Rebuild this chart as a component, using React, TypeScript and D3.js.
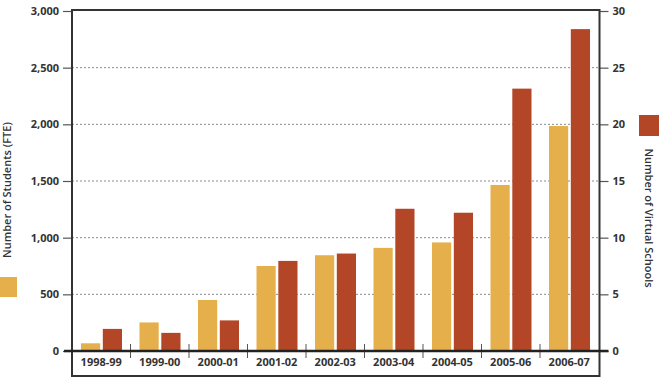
import React, { useEffect, useRef } from 'react';
import * as d3 from 'd3';

const years = [
  '1998-99',
  '1999-00',
  '2000-01',
  '2001-02',
  '2002-03',
  '2003-04',
  '2004-05',
  '2005-06',
  '2006-07',
];
const students = [68, 252, 450, 750, 845, 910, 958, 1465, 1985];
const schools = [1.95, 1.6, 2.7, 7.95, 8.6, 12.55, 12.2, 23.15, 28.4];
const studentTicks = [0, 500, 1000, 1500, 2000, 2500, 3000];
const schoolTicks = [0, 5, 10, 15, 20, 25, 30];

const GOLD = '#e5b04b';
const RUST = '#b24626';
const INK = '#333333';

const App: React.FC = () => {
  const chartRef = useRef<HTMLDivElement>(null);

  useEffect(() => {
    if (!chartRef.current) return;
    document.body.style.margin = '0';

    const width = 659;
    const height = 386;
    const margin = { top: 11, right: 60, bottom: 35, left: 72 };
    const plotRight = 599.5;
    const baseY = height - margin.bottom;
    const frameBottom = 376;
    const font = "'Open Sans', 'DejaVu Sans', sans-serif";

    d3.select(chartRef.current).select('svg').remove();

    const svg = d3
      .select(chartRef.current)
      .append('svg')
      .attr('width', width)
      .attr('height', height)
      .style('display', 'block')
      .style('font-family', font);

    const xScale = d3
      .scaleBand<string>()
      .domain(years)
      .range([margin.left, 598.5])
      .paddingInner(0)
      .paddingOuter(0);

    const inner = d3
      .scaleBand<string>()
      .domain(['students', 'schools'])
      .range([9, xScale.bandwidth() - 8.5])
      .paddingInner(0.12);

    const yLeft = d3
      .scaleLinear()
      .domain([0, 3000])
      .range([baseY, margin.top]);

    const yRight = d3
      .scaleLinear()
      .domain([0, 30])
      .range([baseY, margin.top]);

    // dotted gridlines
    svg
      .append('g')
      .selectAll('line')
      .data(studentTicks.filter((t) => t > 0 && t < 3000))
      .enter()
      .append('line')
      .attr('x1', margin.left)
      .attr('x2', plotRight)
      .attr('y1', (d) => yLeft(d))
      .attr('y2', (d) => yLeft(d))
      .attr('stroke', '#8a8a8a')
      .attr('stroke-width', 1)
      .attr('stroke-dasharray', '2,2');

    // bars
    const groups = svg
      .append('g')
      .selectAll('g')
      .data(years)
      .enter()
      .append('g')
      .attr('transform', (d) => `translate(${xScale(d)},0)`);

    groups
      .append('rect')
      .attr('x', inner('students')!)
      .attr('width', inner.bandwidth())
      .attr('y', (d, i) => yLeft(students[i]))
      .attr('height', (d, i) => baseY - yLeft(students[i]))
      .attr('fill', GOLD);

    groups
      .append('rect')
      .attr('x', inner('schools')!)
      .attr('width', inner.bandwidth())
      .attr('y', (d, i) => yRight(schools[i]))
      .attr('height', (d, i) => baseY - yRight(schools[i]))
      .attr('fill', RUST);

    // left axis
    const left = svg
      .append('g')
      .attr('transform', `translate(${margin.left},0)`)
      .call(
        d3
          .axisLeft(yLeft)
          .tickValues(studentTicks)
          .tickSize(9)
          .tickPadding(4)
          .tickFormat(d3.format(','))
      );
    left.select('.domain').remove();
    left.selectAll('line').attr('stroke', '#555').attr('stroke-width', 1.2);
    left
      .selectAll('text')
      .attr('fill', INK)
      .style('font-family', font)
      .style('font-size', '11px')
      .style('font-weight', '700');

    // right axis
    const right = svg
      .append('g')
      .attr('transform', `translate(${plotRight},0)`)
      .call(
        d3
          .axisRight(yRight)
          .tickValues(schoolTicks)
          .tickSize(9)
          .tickPadding(4)
      );
    right.select('.domain').remove();
    right.selectAll('line').attr('stroke', '#555').attr('stroke-width', 1.2);
    right
      .selectAll('text')
      .attr('fill', INK)
      .style('font-family', font)
      .style('font-size', '11px')
      .style('font-weight', '700');

    // category separators
    svg
      .append('g')
      .selectAll('line')
      .data(years.slice(1))
      .enter()
      .append('line')
      .attr('x1', (d) => xScale(d)!)
      .attr('x2', (d) => xScale(d)!)
      .attr('y1', baseY - 7)
      .attr('y2', baseY + 7)
      .attr('stroke', '#555')
      .attr('stroke-width', 1);

    // category labels
    svg
      .append('g')
      .selectAll('text')
      .data(years)
      .enter()
      .append('text')
      .attr('x', (d) => xScale(d)! + xScale.bandwidth() / 2)
      .attr('y', baseY + 15)
      .attr('text-anchor', 'middle')
      .attr('fill', INK)
      .style('font-size', '11px')
      .style('font-weight', '700')
      .text((d) => d);

    // frame
    svg
      .append('rect')
      .attr('x', margin.left)
      .attr('y', margin.top - 1)
      .attr('width', plotRight - margin.left)
      .attr('height', frameBottom - margin.top + 1)
      .attr('fill', 'none')
      .attr('stroke', INK)
      .attr('stroke-width', 2);

    // baseline
    svg
      .append('line')
      .attr('x1', margin.left - 8)
      .attr('x2', plotRight + 9)
      .attr('y1', baseY)
      .attr('y2', baseY)
      .attr('stroke', '#222')
      .attr('stroke-width', 2.5);

    // left title + legend swatch
    svg
      .append('text')
      .attr('transform', `translate(11,190) rotate(-90)`)
      .attr('text-anchor', 'middle')
      .attr('fill', INK)
      .style('font-size', '11px')
      .style('font-weight', '600')
      .text('Number of Students (FTE)');
    svg
      .append('rect')
      .attr('x', 0)
      .attr('y', 277)
      .attr('width', 17)
      .attr('height', 20)
      .attr('fill', GOLD);

    // right title + legend swatch
    svg
      .append('text')
      .attr('transform', `translate(645,218) rotate(90)`)
      .attr('text-anchor', 'middle')
      .attr('fill', INK)
      .style('font-size', '11px')
      .style('font-weight', '600')
      .text('Number of Virtual Schools');
    svg
      .append('rect')
      .attr('x', 639)
      .attr('y', 115)
      .attr('width', 20)
      .attr('height', 21)
      .attr('fill', RUST);
  }, []);

  return <div ref={chartRef}></div>;
};

export default App;
